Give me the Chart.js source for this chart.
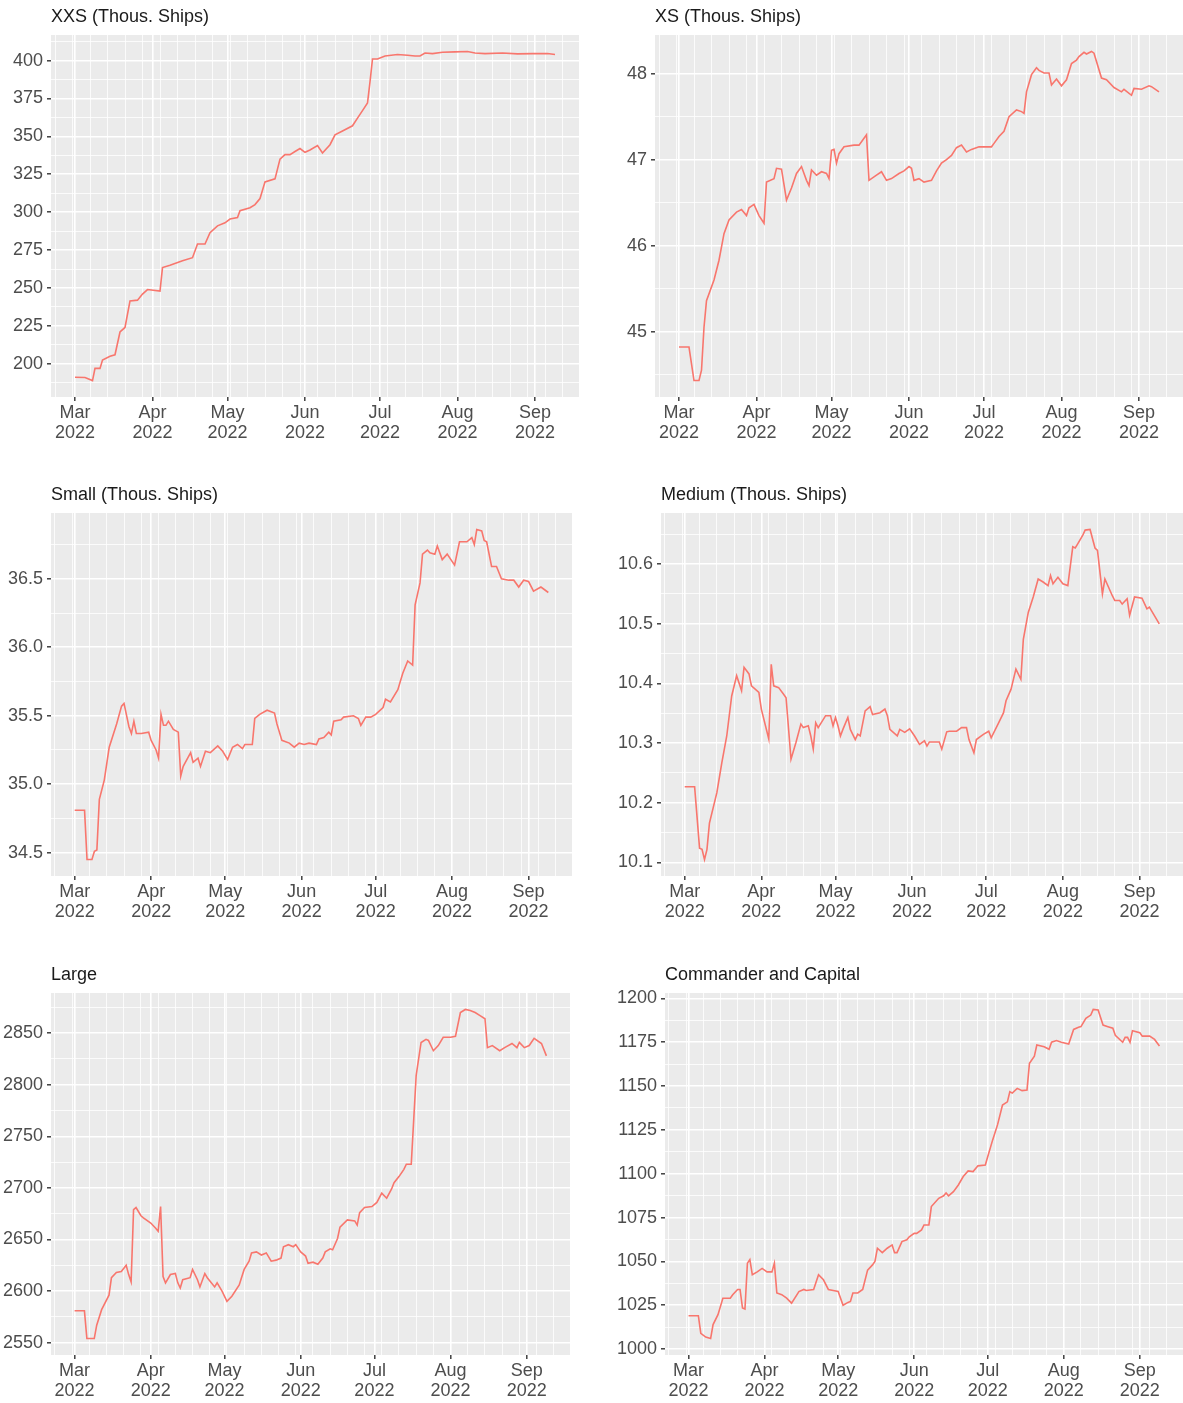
<!DOCTYPE html>
<html>
<head>
<meta charset="utf-8">
<script src="https://cdn.jsdelivr.net/npm/chart.js@4.4.0/dist/chart.umd.min.js"></script>
<style>
  body { margin: 0; background: #ffffff; }
  #wrap { position: relative; width: 1183px; height: 1403px; overflow: hidden; }
  #wrap canvas { position: absolute; }
</style>
</head>
<body>
<div id="wrap">
  <canvas id="xxs"></canvas>
  <canvas id="xs"></canvas>
  <canvas id="small"></canvas>
  <canvas id="medium"></canvas>
  <canvas id="large"></canvas>
  <canvas id="commander"></canvas>
</div>
<script>
// x values are days since 1 Mar 2022
const monthLabels = ['Mar', 'Apr', 'May', 'Jun', 'Jul', 'Aug', 'Sep'];
const monthDays = [0, 31, 61, 92, 122, 153, 184];
const yearLabel = '2022';

const xxsDay = [0, 4, 7, 8, 10, 11, 14, 16, 18, 20, 22, 25, 27, 29, 34, 35, 38, 43, 47, 49, 52, 54, 57, 60, 62, 65, 66, 70, 72, 74, 76, 80, 82, 84, 86, 88, 90, 92, 94, 97, 99, 102, 104, 107, 111, 113, 115, 117, 118, 119, 121, 124, 129, 133, 136, 138, 140, 143, 147, 152, 157, 160, 164, 171, 177, 183, 189, 192];
const xxsVal = [191.2, 191, 189, 197, 197, 202.5, 205, 206, 221, 224, 241.5, 242, 246, 249, 248, 263.5, 265, 268, 270, 279, 279, 286.5, 291, 293, 295.5, 296.5, 301, 303, 305, 309, 320, 322, 335, 338, 338, 340, 342, 339.5, 341, 344, 339, 344.5, 351, 353.5, 357, 362, 367, 372, 386, 401, 401, 403, 404, 403.5, 403, 403, 405, 404.6, 405.5, 405.7, 406, 405, 404.6, 405, 404.4, 404.6, 404.6, 404];

const xsDay = [0, 4, 6, 8, 9, 10, 11, 14, 16, 18, 20, 23, 25, 27, 28, 30, 32, 34, 35, 38, 39, 41, 43, 45, 47, 49, 51, 52, 53, 55, 57, 59, 60, 61, 62, 63, 64, 66, 70, 72, 74, 75, 76, 79, 81, 83, 85, 88, 90, 92, 93, 94, 96, 98, 101, 103, 105, 107, 109, 111, 113, 115, 117, 120, 123, 125, 126, 128, 130, 132, 135, 137, 138, 139, 141, 143, 144, 146, 148, 149, 151, 153, 155, 157, 159, 160, 162, 163, 165, 166, 169, 171, 174, 177, 178, 181, 182, 185, 188, 189, 192];
const xsVal = [44.82, 44.82, 44.43, 44.43, 44.55, 45.05, 45.36, 45.6, 45.83, 46.14, 46.3, 46.39, 46.42, 46.35, 46.44, 46.48, 46.35, 46.26, 46.74, 46.78, 46.9, 46.89, 46.53, 46.67, 46.84, 46.92, 46.76, 46.7, 46.88, 46.82, 46.86, 46.84, 46.78, 47.11, 47.12, 46.96, 47.07, 47.15, 47.17, 47.17, 47.25, 47.29, 46.76, 46.82, 46.86, 46.76, 46.78, 46.84, 46.87, 46.92, 46.9, 46.76, 46.78, 46.74, 46.76, 46.87, 46.96, 47.0, 47.05, 47.14, 47.17, 47.09, 47.12, 47.15, 47.15, 47.15, 47.19, 47.27, 47.33, 47.5, 47.58, 47.56, 47.54, 47.79, 47.99, 48.07, 48.04, 48.01, 48.01, 47.87, 47.94, 47.86, 47.93, 48.12, 48.16, 48.2, 48.25, 48.23, 48.26, 48.24, 47.95, 47.93, 47.84, 47.79, 47.82, 47.75, 47.83, 47.82, 47.86, 47.85, 47.79];

const smallDay = [0, 4, 5, 7, 8, 9, 10, 12, 14, 17, 19, 20, 22, 23, 24, 25, 27, 30, 31, 33, 34, 35, 36, 37, 38, 40, 42, 43, 44, 47, 48, 50, 51, 53, 55, 58, 60, 62, 64, 66, 68, 69, 72, 73, 75, 78, 81, 82, 84, 87, 89, 91, 93, 95, 98, 99, 101, 103, 104, 105, 108, 109, 113, 115, 116, 118, 120, 122, 125, 126, 128, 131, 133, 135, 137, 138, 140, 141, 143, 144, 146, 147, 149, 151, 154, 156, 159, 161, 162, 163, 165, 166, 167, 169, 171, 173, 176, 178, 180, 182, 184, 186, 189, 192];
const smallVal = [34.81, 34.81, 34.45, 34.45, 34.51, 34.52, 34.89, 35.03, 35.27, 35.44, 35.57, 35.59, 35.42, 35.37, 35.46, 35.37, 35.37, 35.38, 35.32, 35.25, 35.19, 35.51, 35.43, 35.43, 35.46, 35.4, 35.38, 35.06, 35.13, 35.23, 35.16, 35.19, 35.13, 35.24, 35.23, 35.28, 35.24, 35.18, 35.27, 35.29, 35.26, 35.29, 35.29, 35.48, 35.51, 35.54, 35.52, 35.44, 35.32, 35.3, 35.27, 35.3, 35.29, 35.3, 35.29, 35.33, 35.34, 35.38, 35.36, 35.46, 35.47, 35.49, 35.5, 35.48, 35.43, 35.49, 35.49, 35.51, 35.56, 35.62, 35.6, 35.69, 35.81, 35.9, 35.87, 36.31, 36.47, 36.68, 36.71, 36.69, 36.68, 36.74, 36.64, 36.68, 36.6, 36.77, 36.77, 36.8, 36.75, 36.86, 36.85, 36.78, 36.77, 36.59, 36.59, 36.5, 36.49, 36.49, 36.44, 36.49, 36.48, 36.41, 36.44, 36.4];

const mediumDay = [0, 4, 6, 7, 8, 9, 10, 13, 15, 17, 19, 21, 23, 24, 26, 27, 30, 31, 34, 35, 36, 38, 40, 41, 43, 45, 47, 48, 50, 51, 52, 53, 54, 57, 59, 60, 61, 62, 63, 64, 66, 67, 69, 70, 71, 73, 75, 76, 79, 81, 82, 83, 86, 87, 89, 91, 93, 95, 97, 98, 99, 103, 104, 106, 107, 110, 112, 114, 115, 117, 118, 120, 121, 123, 124, 127, 129, 130, 132, 134, 136, 137, 139, 141, 143, 145, 147, 148, 149, 151, 153, 155, 157, 158, 159, 161, 162, 164, 166, 167, 169, 170, 173, 174, 176, 177, 179, 180, 182, 185, 187, 188, 192];
const mediumVal = [10.227, 10.227, 10.124, 10.122, 10.105, 10.122, 10.166, 10.217, 10.267, 10.312, 10.379, 10.413, 10.388, 10.427, 10.416, 10.396, 10.385, 10.357, 10.307, 10.432, 10.396, 10.393, 10.382, 10.376, 10.273, 10.301, 10.332, 10.326, 10.329, 10.312, 10.29, 10.334, 10.326, 10.346, 10.346, 10.329, 10.343, 10.329, 10.312, 10.323, 10.343, 10.323, 10.306, 10.315, 10.312, 10.354, 10.361, 10.348, 10.351, 10.357, 10.346, 10.323, 10.312, 10.323, 10.318, 10.324, 10.312, 10.298, 10.304, 10.295, 10.302, 10.302, 10.29, 10.319, 10.32, 10.32, 10.326, 10.326, 10.306, 10.284, 10.306, 10.312, 10.315, 10.32, 10.309, 10.334, 10.351, 10.371, 10.39, 10.424, 10.407, 10.474, 10.519, 10.545, 10.575, 10.57, 10.564, 10.581, 10.567, 10.578, 10.567, 10.564, 10.629, 10.627, 10.634, 10.648, 10.657, 10.658, 10.627, 10.623, 10.55, 10.575, 10.547, 10.539, 10.539, 10.533, 10.542, 10.514, 10.545, 10.543, 10.525, 10.528, 10.5];

const largeDay = [0, 4, 5, 8, 9, 11, 14, 15, 17, 19, 21, 22, 23, 24, 25, 27, 28, 31, 33, 34, 35, 36, 37, 39, 41, 42, 43, 44, 47, 48, 50, 51, 53, 54, 57, 58, 60, 62, 64, 67, 69, 71, 72, 74, 76, 78, 80, 82, 84, 85, 87, 89, 90, 92, 94, 95, 97, 99, 101, 102, 104, 105, 107, 108, 111, 114, 115, 116, 118, 121, 123, 125, 127, 129, 130, 132, 134, 135, 137, 139, 140, 141, 143, 144, 146, 148, 150, 153, 155, 157, 159, 161, 163, 165, 167, 168, 170, 173, 175, 178, 180, 181, 183, 185, 187, 190, 192];
const largeVal = [2581, 2581, 2554, 2554, 2567, 2582, 2596, 2613, 2618, 2619, 2625, 2616, 2609, 2679, 2681, 2673, 2671, 2666, 2661, 2658, 2682, 2614, 2608, 2616, 2617, 2608, 2603, 2611, 2613, 2621, 2611, 2604, 2617, 2613, 2604, 2608, 2600, 2590, 2595, 2606, 2621, 2629, 2637, 2638, 2635, 2637, 2629, 2630, 2632, 2643, 2645, 2643, 2645, 2638, 2634, 2627, 2628, 2626, 2632, 2638, 2641, 2640, 2651, 2662, 2669, 2668, 2664, 2676, 2681, 2682, 2686, 2695, 2690, 2699, 2705, 2711, 2718, 2723, 2723, 2809, 2825, 2841, 2844, 2843, 2833, 2838, 2846, 2846, 2847, 2870, 2873, 2872, 2870, 2867, 2864, 2836, 2838, 2833, 2836, 2840, 2836, 2841, 2836, 2838, 2845, 2840, 2828];

const commanderDay = [0, 4, 5, 7, 9, 10, 12, 14, 17, 18, 20, 21, 22, 23, 24, 25, 26, 28, 30, 32, 34, 35, 36, 38, 40, 42, 45, 47, 48, 51, 53, 55, 57, 59, 61, 63, 65, 66, 67, 69, 71, 73, 75, 76, 77, 79, 81, 83, 84, 85, 87, 89, 90, 92, 93, 95, 96, 98, 99, 102, 104, 105, 106, 108, 110, 112, 114, 116, 118, 121, 122, 124, 126, 128, 130, 131, 132, 134, 136, 138, 139, 141, 142, 145, 147, 148, 150, 152, 155, 157, 159, 160, 162, 164, 165, 167, 169, 171, 173, 174, 177, 178, 179, 180, 181, 184, 185, 188, 190, 192];
const commanderVal = [1019, 1019, 1009, 1006.8, 1006, 1014, 1019.6, 1029, 1029, 1031, 1034, 1034, 1023.4, 1022.8, 1049, 1051, 1042.4, 1044, 1046, 1044, 1044, 1049, 1032, 1031, 1029, 1026.2, 1032.8, 1034, 1033.4, 1034, 1042.4, 1039.5, 1034, 1033.4, 1032.8, 1025, 1026.6, 1027.2, 1032, 1032, 1034, 1045, 1048, 1050, 1057.5, 1055, 1057.5, 1059.4, 1055, 1055, 1061.3, 1062.3, 1064, 1066, 1066, 1068, 1070.8, 1070.8, 1081.3, 1086, 1087.4, 1089, 1087.4, 1089.8, 1093.6, 1098.4, 1101.6, 1101.2, 1104.5, 1105, 1109.8, 1119.3, 1128, 1139.2, 1141, 1146.8, 1146, 1148.7, 1147.4, 1147.8, 1163, 1167, 1173.4, 1172.4, 1171, 1175, 1176, 1175, 1174, 1182.3, 1183.5, 1183.9, 1188.6, 1190.5, 1193.7, 1193.4, 1184.8, 1183.9, 1183, 1179, 1175, 1177.8, 1177.8, 1175, 1181.6, 1180.4, 1178.5, 1178.5, 1176.6, 1172.8];

Chart.defaults.font.family = 'Liberation Sans';

// grey panel background like ggplot
const panelBg = {
    id: 'panelBg',
    beforeDraw(chart) {
        const a = chart.chartArea;
        const ctx = chart.ctx;
        ctx.save();
        ctx.fillStyle = '#EBEBEB';
        ctx.fillRect(a.left, a.top, a.right - a.left, a.bottom - a.top);
        ctx.restore();
    }
};

// box = plot area [left, top, right, bottom] on the page
function panel(id, box, title, days, vals, step, decimals) {
    const lo = Math.min(...vals), hi = Math.max(...vals);
    const yMin = lo - (hi - lo) * 0.05, yMax = hi + (hi - lo) * 0.05;
    const d0 = days[0], d1 = days[days.length - 1];
    const xMin = d0 - (d1 - d0) * 0.05, xMax = d1 + (d1 - d0) * 0.05;

    const padRight = box[2] >= 1183 ? 0 : 4;
    const cv = document.getElementById(id);
    cv.width = box[2] - box[0] + 50 + padRight;
    cv.height = box[3] - box[1] + 85;
    cv.style.left = (box[0] - 50) + 'px';
    cv.style.top = (box[1] - 35) + 'px';

    const yTicks = [];
    for (let k = Math.floor(yMin / step) - 1; k * step <= yMax + step; k++) {
        const v = +(k * step).toFixed(6), m = +((k + 0.5) * step).toFixed(6);
        if (v >= yMin && v <= yMax) yTicks.push({ value: v, major: true });
        if (m >= yMin && m <= yMax) yTicks.push({ value: m, major: false });
    }
    const xTicks = monthDays.map(d => ({ value: d, major: true }));
    for (let d = -8; d <= xMax; d += 7) {   // Mondays
        if (d >= xMin && monthDays.indexOf(d) < 0) xTicks.push({ value: d, major: false });
    }
    xTicks.sort((a, b) => a.value - b.value);

    const grid = {
        color: '#FFFFFF',
        lineWidth: c => (c.tick && c.tick.major) ? 1.6 : 0.8,
        tickColor: c => (c.tick && c.tick.major) ? '#333333' : 'rgba(0,0,0,0)',
        tickWidth: 1.4,
        tickLength: 4
    };

    new Chart(cv, {
        type: 'line',
        data: {
            datasets: [{
                data: days.map((d, i) => ({ x: d, y: vals[i] })),
                borderColor: '#F8766D',
                borderWidth: 1.6,
                pointRadius: 0,
                tension: 0,
                fill: false
            }]
        },
        options: {
            responsive: false,
            animation: false,
            events: [],
            layout: { padding: { left: 0, top: 0, right: padRight, bottom: 0 } },
            scales: {
                x: {
                    type: 'linear',
                    min: xMin,
                    max: xMax,
                    afterBuildTicks: s => { s.ticks = xTicks.map(t => ({ ...t })); },
                    afterFit: s => { s.height = 50; },
                    grid: grid,
                    border: { display: false },
                    ticks: {
                        autoSkip: false,
                        maxRotation: 0,
                        padding: 2,
                        color: '#4D4D4D',
                        font: { size: 18, lineHeight: 1.12 },
                        callback: (v, i, t) => t[i].major ? [monthLabels[monthDays.indexOf(v)], yearLabel] : ''
                    }
                },
                y: {
                    type: 'linear',
                    min: yMin,
                    max: yMax,
                    afterBuildTicks: s => { s.ticks = yTicks.slice().sort((a, b) => a.value - b.value); },
                    afterFit: s => { s.width = 50; },
                    grid: grid,
                    border: { display: false },
                    ticks: {
                        autoSkip: false,
                        padding: 4,
                        color: '#4D4D4D',
                        font: { size: 18 },
                        callback: (v, i, t) => t[i].major ? v.toFixed(decimals) : ''
                    }
                }
            },
            plugins: {
                legend: { display: false },
                tooltip: { enabled: false },
                title: {
                    display: true,
                    text: title,
                    align: 'start',
                    fullSize: false,
                    color: '#1A1A1A',
                    font: { size: 18, weight: 'normal', lineHeight: 1.2 },
                    padding: { top: 6, bottom: 7.4 }
                }
            }
        },
        plugins: [panelBg]
    });
}

panel('xxs', [51, 35, 579, 397], 'XXS (Thous. Ships)', xxsDay, xxsVal, 25, 0);
panel('xs', [655, 35, 1183, 397], 'XS (Thous. Ships)', xsDay, xsVal, 1, 0);
panel('small', [51, 513, 572, 876], 'Small (Thous. Ships)', smallDay, smallVal, 0.5, 1);
panel('medium', [661, 513, 1183, 876], 'Medium (Thous. Ships)', mediumDay, mediumVal, 0.1, 1);
panel('large', [51, 993, 570, 1355], 'Large', largeDay, largeVal, 50, 0);
panel('commander', [665, 993, 1183, 1355], 'Commander and Capital', commanderDay, commanderVal, 25, 0);
</script>
</body>
</html>
